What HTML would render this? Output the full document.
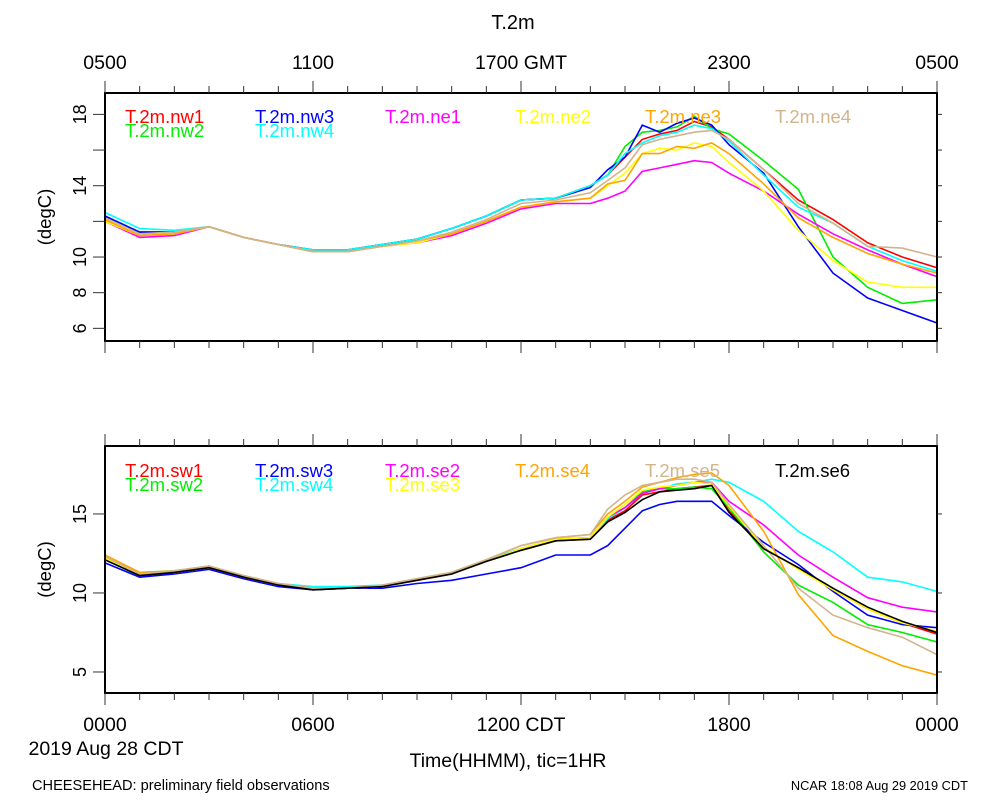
<!DOCTYPE html>
<html><head><meta charset="utf-8"><style>
body{margin:0;background:#fff;}
svg{display:block;font-family:"Liberation Sans",sans-serif;}
</style></head><body>
<svg id="chart" width="1000" height="800" viewBox="0 0 1000 800">
<text x="513" y="29" font-size="20" text-anchor="middle">T.2m</text>
<g id="g"></g>
<text x="106" y="755" font-size="19.5" text-anchor="middle">2019 Aug 28 CDT</text>
<text x="508" y="767" font-size="19.5" text-anchor="middle">Time(HHMM), tic=1HR</text>
<text x="32" y="790" font-size="14.6">CHEESEHEAD: preliminary field observations</text>
<text x="968" y="790" font-size="12.8" text-anchor="end">NCAR 18:08 Aug 29 2019 CDT</text>
</svg>
<script>
const hours=[0,1,2,3,4,5,6,7,8,9,10,11,12,13,14,14.5,15,15.5,16,16.5,17,17.5,18,19,20,21,22,23,24];
const topNames=["T.2m.nw1","T.2m.nw2","T.2m.nw3","T.2m.nw4","T.2m.ne1","T.2m.ne2","T.2m.ne3","T.2m.ne4"];
const topColors=["#ff0000","#00ee00","#0000ff","#00ffff","#ff00ff","#ffff00","#ffa500","#d2b48c"];
const nw1=[12.2,11.4,11.4,11.7,11.1,10.7,10.4,10.4,10.7,11.0,11.6,12.3,13.2,13.3,14.0,14.6,15.6,16.6,16.9,17.1,17.6,17.3,16.6,14.9,13.2,12.1,10.8,10.0,9.4];
const nw2=[12.3,11.3,11.4,11.7,11.1,10.7,10.4,10.4,10.7,11.0,11.6,12.3,13.2,13.3,14.0,14.6,16.2,17.0,17.1,17.3,17.9,17.2,16.9,15.4,13.8,10.0,8.3,7.4,7.6];
const nw3=[12.3,11.4,11.4,11.7,11.1,10.7,10.4,10.4,10.7,11.0,11.6,12.3,13.2,13.3,13.9,14.9,15.6,17.4,17.0,17.5,17.8,17.4,16.3,14.7,11.7,9.1,7.7,7.0,6.3];
const nw4=[12.5,11.6,11.5,11.7,11.1,10.7,10.4,10.4,10.7,11.0,11.6,12.3,13.2,13.3,14.0,14.6,15.8,16.4,16.8,17.0,17.4,17.2,16.5,14.6,12.8,11.9,10.6,9.8,9.2];
const ne1=[12.0,11.1,11.2,11.7,11.1,10.7,10.3,10.3,10.6,10.8,11.2,11.9,12.7,13.0,13.0,13.3,13.7,14.8,15.0,15.2,15.4,15.3,14.7,13.7,12.4,11.3,10.4,9.6,8.9];
const ne2=[12.0,11.2,11.3,11.7,11.1,10.7,10.3,10.3,10.6,10.8,11.3,12.0,12.8,13.1,13.3,14.0,14.7,15.8,16.1,16.0,16.4,16.2,15.3,13.7,11.5,9.8,8.6,8.3,8.3];
const ne3=[12.1,11.2,11.3,11.7,11.1,10.7,10.3,10.3,10.6,10.9,11.3,12.0,12.8,13.1,13.3,14.1,14.3,15.8,15.8,16.2,16.1,16.4,15.8,14.1,12.2,11.1,10.2,9.6,9.1];
const ne4=[12.2,11.3,11.4,11.7,11.1,10.7,10.3,10.3,10.6,10.9,11.4,12.1,13.0,13.2,13.6,14.3,15.0,16.3,16.6,16.8,17.0,17.1,16.6,14.9,13.0,11.9,10.6,10.5,10.0];
const topSeries=[nw1,nw2,nw3,nw4,ne1,ne2,ne3,ne4];
const botNames=["T.2m.sw1","T.2m.sw2","T.2m.sw3","T.2m.sw4","T.2m.se2","T.2m.se3","T.2m.se4","T.2m.se5","T.2m.se6"];
const botColors=["#ff0000","#00ee00","#0000ff","#00ffff","#ff00ff","#ffff00","#ffa500","#d2b48c","#000000"];
const sw1=[12.1,11.1,11.3,11.6,11.0,10.5,10.2,10.3,10.4,10.8,11.2,12.0,12.7,13.3,13.4,14.6,15.2,16.2,16.4,16.6,16.7,16.8,15.2,12.8,11.6,10.2,9.0,8.1,7.4];
const sw2=[12.1,11.1,11.3,11.6,11.0,10.5,10.2,10.3,10.4,10.8,11.2,12.0,12.7,13.3,13.5,14.7,15.4,16.4,16.6,16.6,16.7,16.6,15.4,12.6,10.5,9.4,8.0,7.5,6.9];
const sw3=[11.9,11.0,11.2,11.5,10.9,10.4,10.2,10.3,10.3,10.6,10.8,11.2,11.6,12.4,12.4,13.0,14.1,15.2,15.6,15.8,15.8,15.8,14.9,13.2,11.8,10.1,8.6,8.0,7.8];
const sw4=[12.2,11.3,11.4,11.7,11.1,10.6,10.4,10.4,10.5,10.9,11.3,12.1,12.8,13.4,13.5,14.7,15.4,16.3,16.6,16.9,17.0,17.2,17.0,15.8,13.9,12.6,11.0,10.7,10.1];
const se2=[12.2,11.2,11.3,11.6,11.0,10.5,10.3,10.3,10.4,10.8,11.2,12.0,12.8,13.4,13.5,14.8,15.4,16.3,16.6,16.8,17.0,17.0,15.8,14.3,12.4,11.0,9.7,9.1,8.8];
const se3=[12.2,11.2,11.3,11.6,11.0,10.5,10.3,10.3,10.4,10.8,11.2,12.0,12.8,13.4,13.5,14.8,15.6,16.5,16.7,16.8,17.0,16.9,15.5,12.9,11.5,10.2,9.0,8.1,7.6];
const se4=[12.4,11.3,11.4,11.7,11.1,10.6,10.3,10.3,10.5,10.9,11.3,12.1,13.0,13.5,13.7,15.0,15.8,16.7,17.0,17.3,17.5,17.6,16.8,13.9,9.9,7.3,6.3,5.4,4.8];
const se5=[12.3,11.2,11.4,11.7,11.1,10.6,10.3,10.3,10.5,10.9,11.3,12.1,13.0,13.5,13.7,15.3,16.2,16.8,17.0,17.2,17.2,17.0,15.6,13.0,10.3,8.6,7.8,7.2,6.1];
const se6=[12.1,11.1,11.3,11.6,11.0,10.5,10.2,10.3,10.4,10.8,11.2,12.0,12.7,13.3,13.4,14.5,15.1,15.9,16.4,16.5,16.6,16.8,15.1,12.8,11.6,10.3,9.1,8.2,7.5];
const botSeries=[sw1,sw2,sw3,sw4,se2,se3,se4,se5,se6];
const topTicks=[6,8,10,12,14,16,18];
const topTickLabels=["6","8","10","","14","","18"];
const botTicks=[5,10,15];
const botTickLabels=["5","10","15"];
const gmtLabels=["0500","1100","1700 GMT","2300","0500"];
const cdtLabels=["0000","0600","1200 CDT","1800","0000"];
const topLegendPos=[[0,0],[0,1],[1,0],[1,1],[2,0],[3,0],[4,0],[5,0]];
const botLegendPos=[[0,0],[0,1],[1,0],[1,1],[2,0],[2,1],[3,0],[4,0],[5,0]];

const NS="http://www.w3.org/2000/svg";
const G=document.getElementById('g');
function mk(tag,attrs,parent,text){const e=document.createElementNS(NS,tag);for(const k in attrs)e.setAttribute(k,attrs[k]);if(text!==undefined)e.textContent=text;(parent||G).appendChild(e);return e;}
const X0=105,X1=937;
function xs(h){return X0+(X1-X0)*h/24;}
function panel(top,bot,ymin,ymax,ticks,tickLabels,series,colors,names,legPos,tname,xLabels,labelY,legendY){
  const ys=v=>bot-(v-ymin)/(ymax-ymin)*(bot-top);
  const pg=mk('g',{});
  
  
  const clip=mk('clipPath',{id:tname+'-clip'},pg);
  mk('rect',{x:X0,y:top,width:X1-X0,height:bot-top},clip);
  series.forEach((s,i)=>{
    const d=s.map((v,j)=>(j?'L':'M')+xs(hours[j]).toFixed(1)+','+ys(v).toFixed(1)).join('');
    const p=mk('path',{d:d,fill:'none',stroke:colors[i],'stroke-width':1.6,'clip-path':'url(#'+tname+'-clip)'},pg);
    
    
  });
  const cols=[125,255,385,515,645,775];
  names.forEach((n,i)=>{
    const col=legPos[i][0], row=legPos[i][1];
    const t=mk('text',{x:cols[col],y:legendY+row*14,fill:colors[i],'font-size':18.5},pg,n);
    
    
  });
  const f=mk('rect',{x:X0,y:top,width:X1-X0,height:bot-top,fill:'none',stroke:'#000','stroke-width':2},pg);
  
  
  for(let h=0;h<=24;h++){
    const x=xs(h), L=(h%6===0)?12:7;
    mk('line',{x1:x,x2:x,y1:top,y2:top-L,stroke:'#333','stroke-width':1},pg);
    mk('line',{x1:x,x2:x,y1:bot,y2:bot+L,stroke:'#333','stroke-width':1},pg);
  }
  ticks.forEach((v,i)=>{
    const y=ys(v);
    mk('line',{x1:X0-12,x2:X0,y1:y,y2:y,stroke:'#333','stroke-width':1},pg);
    mk('line',{x1:X1,x2:X1+5,y1:y,y2:y,stroke:'#333','stroke-width':1},pg);
    if(tickLabels[i]){
      const t=mk('text',{x:0,y:0,'font-size':18,'text-anchor':'middle',transform:'translate(86,'+y+') rotate(-90)'},pg,tickLabels[i]);
      
      
    }
  });
  const yt=mk('text',{x:0,y:0,'font-size':18.5,'text-anchor':'middle',transform:'translate(51,'+((top+bot)/2)+') rotate(-90)'},pg,'(degC)');
  
  
  xLabels.forEach((l,i)=>{
    const t=mk('text',{x:xs(i*6),y:labelY,'font-size':19.5,'text-anchor':'middle'},pg,l);
    
    
  });
}
panel(93,341,5.29,19.2,topTicks,topTickLabels,topSeries,topColors,topNames,topLegendPos,'top-panel',gmtLabels,69,123);
panel(446,693,3.67,19.3,botTicks,botTickLabels,botSeries,botColors,botNames,botLegendPos,'bottom-panel',cdtLabels,731,477);
</script>
</body></html>
